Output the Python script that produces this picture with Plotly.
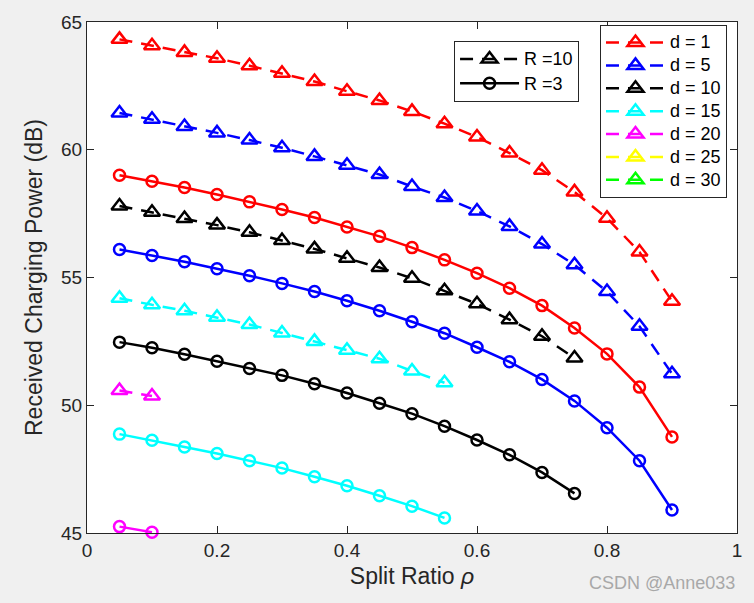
import plotly.graph_objects as go

rho = [0.05, 0.1, 0.15, 0.2, 0.25, 0.3, 0.35, 0.4, 0.45, 0.5,
       0.55, 0.6, 0.65, 0.7, 0.75, 0.8, 0.85, 0.9]

d_labels = ["d = 1", "d = 5", "d = 10", "d = 15", "d = 20", "d = 25", "d = 30"]
colors = ["#ff0000", "#0000ff", "#000000", "#00ffff", "#ff00ff", "#ffff00", "#00ff00"]
r_labels = ["R =10", "R =3"]

# R = 10 (dashed, triangles)
r10_d1 = [64.32, 64.07, 63.81, 63.58, 63.29, 62.99, 62.67, 62.29, 61.93, 61.5,
          61.02, 60.5, 59.87, 59.2, 58.35, 57.32, 56.0, 54.07]
r10_d5 = [61.44, 61.19, 60.91, 60.66, 60.38, 60.08, 59.74, 59.39, 59.03, 58.56,
          58.13, 57.6, 57.0, 56.31, 55.5, 54.45, 53.09, 51.23]
r10_d10 = [57.8, 57.55, 57.31, 57.05, 56.77, 56.45, 56.12, 55.75, 55.39, 54.97,
           54.48, 53.97, 53.35, 52.7, 51.85]
r10_d15 = [54.19, 53.93, 53.7, 53.44, 53.16, 52.83, 52.5, 52.15, 51.82, 51.34, 50.88]
r10_d20 = [50.58, 50.36]
r10_d25 = []
r10_d30 = []

# R = 3 (solid, circles)
r3_d1 = [59.0, 58.77, 58.52, 58.25, 57.96, 57.66, 57.35, 56.98, 56.61, 56.17,
         55.69, 55.17, 54.58, 53.9, 53.02, 52.01, 50.71, 48.76]
r3_d5 = [56.1, 55.86, 55.62, 55.34, 55.07, 54.77, 54.45, 54.09, 53.7, 53.27,
         52.82, 52.27, 51.7, 51.01, 50.17, 49.12, 47.83, 45.9]
r3_d10 = [52.47, 52.25, 52.0, 51.72, 51.44, 51.17, 50.84, 50.48, 50.08, 49.67,
          49.18, 48.64, 48.06, 47.37, 46.55]
r3_d15 = [48.87, 48.63, 48.37, 48.11, 47.83, 47.54, 47.2, 46.85, 46.46, 46.05, 45.59]
r3_d20 = [45.25, 45.03]
r3_d25 = []
r3_d30 = []

r10_series = [r10_d1, r10_d5, r10_d10, r10_d15, r10_d20, r10_d25, r10_d30]
r3_series = [r3_d1, r3_d5, r3_d10, r3_d15, r3_d20, r3_d25, r3_d30]

x_ticks = [0, 0.2, 0.4, 0.6, 0.8, 1]
y_ticks = [45, 50, 55, 60, 65]

LW = 2.5
DASH = "13px,9px"
FONT = "Liberation Sans, Arial, sans-serif"


def leg_text(s):
    return '<span style="font-size:18px">' + s + '</span>'


fig = go.Figure()

for lab, col, ys in zip(d_labels, colors, r3_series):
    xs = rho[:len(ys)] if ys else [None]
    yv = ys if ys else [None]
    fig.add_trace(go.Scatter(
        x=xs, y=yv, mode="lines+markers", name=lab, showlegend=False,
        line=dict(color=col, width=LW),
        marker=dict(symbol="circle-open", size=11, color=col, line=dict(width=LW, color=col)),
        cliponaxis=False))

for lab, col, ys in zip(d_labels, colors, r10_series):
    xs = rho[:len(ys)] if ys else [None]
    yv = ys if ys else [None]
    fig.add_trace(go.Scatter(
        x=xs, y=yv, mode="lines+markers", name=leg_text(lab), legend="legend",
        line=dict(color=col, width=LW, dash=DASH),
        marker=dict(symbol="triangle-up-open", size=14, color=col, line=dict(width=LW, color=col)),
        cliponaxis=False))

# R legend entries
fig.add_trace(go.Scatter(
    x=[None], y=[None], mode="lines+markers", name=leg_text(r_labels[0]), legend="legend2",
    line=dict(color="black", width=LW, dash=DASH),
    marker=dict(symbol="triangle-up-open", size=14, color="black", line=dict(width=LW, color="black"))))
fig.add_trace(go.Scatter(
    x=[None], y=[None], mode="lines+markers", name=leg_text(r_labels[1]), legend="legend2",
    line=dict(color="black", width=LW),
    marker=dict(symbol="circle-open", size=11, color="black", line=dict(width=LW, color="black"))))

axis_common = dict(
    showgrid=False, zeroline=False, showline=True, linecolor="#262626", linewidth=1,
    mirror="ticks", ticks="inside", ticklen=7, tickcolor="#262626", tickwidth=1,
    tickfont=dict(family=FONT, size=19, color="#262626"),
)

fig.update_layout(
    width=754, height=603,
    paper_bgcolor="#f0f0f0", plot_bgcolor="#ffffff",
    margin=dict(l=87, r=16, t=19, b=70),
    font=dict(family=FONT, color="#262626"),
    xaxis=dict(range=[0, 1], tickvals=x_ticks, ticktext=[str(v) for v in x_ticks],
               title=dict(text="Split Ratio <i>ρ</i>", font=dict(family=FONT, size=23, color="#262626"), standoff=8),
               **axis_common),
    yaxis=dict(range=[45, 65], tickvals=y_ticks, ticktext=[str(v) for v in y_ticks],
               title=dict(text="Received Charging Power (dB)", font=dict(family=FONT, size=23, color="#262626"), standoff=12),
               **axis_common),
    legend=dict(x=0.9846, y=0.994, xanchor="right", yanchor="top",
                bgcolor="white", bordercolor="#262626", borderwidth=1,
                font=dict(family=FONT, size=15.3, color="#000000"),
                itemwidth=59, tracegroupgap=0),
    legend2=dict(x=0.757, y=0.963, xanchor="right", yanchor="top",
                 bgcolor="white", bordercolor="#262626", borderwidth=1,
                 font=dict(family=FONT, size=16.3, color="#000000"),
                 itemwidth=59),
    annotations=[dict(text="CSDN @Anne033", x=1.0, y=-0.097, xref="paper", yref="paper",
                      xanchor="right", yanchor="middle", showarrow=False,
                      font=dict(family=FONT, size=18, color="#a8a8a8"))],
)

fig.write_html("out.html", config={"displayModeBar": False},
               post_script="document.body.style.margin='0';")
